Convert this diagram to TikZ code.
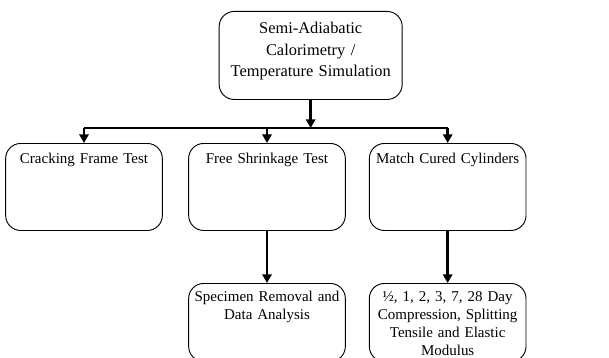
\documentclass[tikz,border=0pt]{standalone}
\usepackage{fontspec}
\setmainfont{Liberation Serif}
\usepackage{tikz}
\usetikzlibrary{arrows.meta,positioning,calc}
\tikzset{
  box/.style={draw,line width=0.8pt,rounded corners=0.45cm,align=center,
              inner xsep=0.1cm,inner ysep=0pt,text width=4.5cm,
              text height=0.6cm},               % text sits near the top edge
  ar/.style={-{Triangle[length=2.6mm,width=2.8mm]},line width=2.2pt},
  bar/.style={line width=2.2pt}
}

\begin{document}
\begin{tikzpicture}[font=\fontsize{12.8}{15.4}\selectfont]
  \useasboundingbox (0,0) rectangle (18.27,-10.74);

  \node[box,text width=5.29cm,text height=0.66cm,text depth=1.98cm,anchor=north,
        font=\fontsize{14}{18.4}\selectfont] (sim) at (9.32,-0.33)
    {Semi-Adiabatic\\Calorimetry /\\Temperature Simulation};

  \node[box,text depth=2.01cm,anchor=north] (crack)  at (2.52,-4.29) {Cracking Frame Test};
  \node[box,text depth=2.01cm,anchor=north] (shrink) at (8.01,-4.29) {Free Shrinkage Test};
  \node[box,text depth=2.01cm,anchor=north] (match)  at (13.43,-4.29) {Match Cured Cylinders};

  \node[box,text height=0.53cm,text depth=1.81cm,anchor=north] (removal) at (8.01,-8.49)
    {Specimen Removal and\\Data Analysis};
  \node[box,text height=0.53cm,text depth=1.81cm,anchor=north] (tests) at (13.43,-8.49)
    {½, 1, 2, 3, 7, 28 Day\\Compression, Splitting\\Tensile and Elastic\\Modulus};

  % distribution bar
  \coordinate (barL) at ([yshift=0.45cm]crack.north);
  \coordinate (barR) at ([yshift=0.45cm]match.north);
  \draw[bar] (barL) -- (barR);
  \draw[ar] (sim.south) -- (sim.south |- barL);
  \draw[ar] (barL) -- (crack.north);
  \draw[ar] (shrink.north |- barL) -- (shrink.north);
  \draw[ar] (barR) -- (match.north);

  \draw[ar] (shrink) -- (removal);
  \draw[ar] (match) -- (tests);
\end{tikzpicture}
\end{document}
